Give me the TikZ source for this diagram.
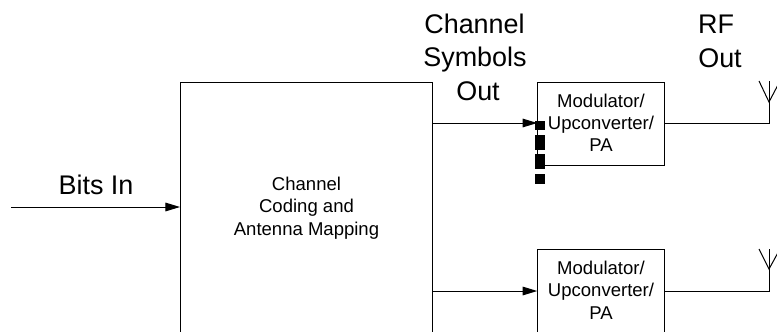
\documentclass[tikz,border=0pt]{standalone}
\usepackage{fontspec}
\setmainfont{Liberation Sans}
\usetikzlibrary{arrows.meta}
\begin{document}
\begin{tikzpicture}[x=0.75pt,y=-0.75pt,
  blockbox/.style={draw,line width=0.75pt,anchor=north west,inner sep=0pt},
  biglabel/.style={font=\fontsize{20.2}{24}\selectfont,inner sep=0pt,anchor=base},
  smalllabel/.style={font=\fontsize{13.9}{16.7}\selectfont,inner sep=0pt,anchor=center,align=center},
  sig/.style={line width=0.75pt,-{Triangle[length=11pt,width=6.5pt]}},
  wire/.style={line width=0.75pt},
  pilot/.style={line width=7.5pt,black}]
\useasboundingbox (0,0) rectangle (777,333);
\clip (0,0) rectangle (777,331.5);
\node[blockbox,minimum width=189pt,minimum height=195pt] (main) at (180,82) {};
\node[blockbox,minimum width=94.9pt,minimum height=62.5pt] (modA) at (537.2,81.5) {};
\node[blockbox,minimum width=94.9pt,minimum height=75pt] (modB) at (537.2,249) {};
\node[smalllabel] (mainT) at (306.5,208) {Channel\\Coding and\\Antenna Mapping};
\node[smalllabel] (modAT) at (601,122.6) {Modulator/\\Upconverter/\\PA};
\node[smalllabel] (modBT) at (601,290.2) {Modulator/\\Upconverter/\\PA};
\node[biglabel] (bits) at (96,194) {Bits In};
\node[biglabel] (ch1) at (474.5,33) {Channel};
\node[biglabel] (ch2) at (475,66) {Symbols};
\node[biglabel] (ch3) at (478,100) {Out};
\node[biglabel] (rf1) at (716,33) {RF};
\node[biglabel] (rf2) at (720,67) {Out};
\coordinate (inS) at (11,207);
\coordinate (inE) at (180,207);
\draw[sig] (inS) -- (inE);
\coordinate (a1) at (432,123);
\coordinate (a2) at (537.2,123);
\draw[sig] (a1) -- (a2);
\coordinate (b1) at (432,291);
\coordinate (b2) at (537.2,291);
\draw[sig] (b1) -- (b2);
\coordinate (antA) at (769,81);
\coordinate (antB) at (769,249);
\draw[wire] (664,123) -| (antA);
\draw[wire] (664,291) -| (antB);
\draw[wire] (759,81) -- (769,102) -- (780,81);
\draw[wire] (759,249) -- (769,269) -- (780,249);
\draw[pilot] (540,121) -- (540,130);
\draw[pilot] (540,135) -- (540,150);
\draw[pilot] (540,154) -- (540,169);
\draw[pilot] (540,174) -- (540,184);
\end{tikzpicture}
\end{document}
